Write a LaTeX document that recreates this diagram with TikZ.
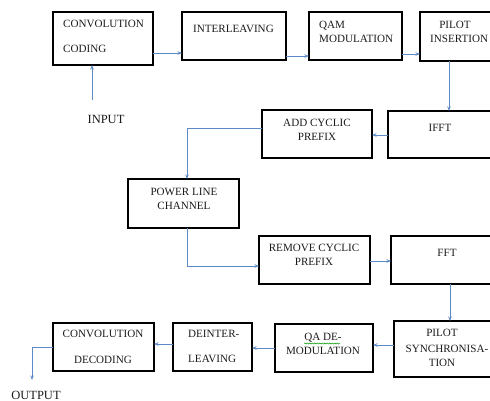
\documentclass[tikz,border=0pt]{standalone}
\usepackage{fontspec}
\setmainfont{Liberation Serif}
\usetikzlibrary{arrows.meta,decorations.pathmorphing}
\definecolor{arrblue}{HTML}{5B8AC6}
\definecolor{txt}{HTML}{1A1A1A}
\tikzset{
  box/.style={draw=black, line width=1.7pt, inner sep=0pt, outer sep=0pt},
  lbl/.style={font=\fontsize{11.1}{13}\selectfont, text=txt, inner sep=0pt, text height=7.3pt, text depth=0pt},
  biglbl/.style={font=\fontsize{12.5}{14}\selectfont, text=txt, inner sep=0pt, text height=8.2pt, text depth=0pt},
  arr/.style={draw=arrblue, line width=0.8pt, -{Stealth[length=4.5pt,width=3.5pt]}},
}
\newcommand{\mkbox}[5]{%
  \node[box, minimum width=#4pt-#2pt, minimum height=#5pt-#3pt] (#1) at ({(#2+#4)/2},{(#3+#5)/2}) {};}
\begin{document}
\begin{tikzpicture}[x=1pt,y=-1pt]
\useasboundingbox (0,0) rectangle (490,401);
\clip (0,0) rectangle (490,401);
% boxes
\mkbox{cc}{53}{12}{153}{65}
\mkbox{il}{182}{12}{286}{60}
\mkbox{qam}{309}{12}{402}{60}
\mkbox{pi}{420}{12}{505}{61}
\mkbox{ifft}{388}{111}{505}{158}
\mkbox{acp}{262}{110}{372}{158}
\mkbox{plc}{128}{179}{239}{228}
\mkbox{rcp}{259}{236}{370}{284}
\mkbox{fft}{391}{236}{505}{284}
\mkbox{ps}{394}{321}{505}{377}
\mkbox{qad}{275}{324}{373}{372}
\mkbox{di}{173}{323}{252}{371}
\mkbox{cd}{53}{323}{154}{371}
% texts
\node[lbl, anchor=west] (t1) at (63,24) {CONVOLUTION};
\node[lbl, anchor=west] (t2) at (63,49) {CODING};
\node[lbl, anchor=west] (t3) at (193,29) {INTERLEAVING};
\node[lbl, anchor=west] (t4) at (319,25) {QAM};
\node[lbl, anchor=west] (t5) at (319,39) {MODULATION};
\node[lbl] (t6) at (455,25) {PILOT};
\node[lbl, anchor=west] (t7) at (430,39) {INSERTION};
\node[lbl] (t8) at (317,123) {ADD CYCLIC};
\node[lbl] (t9) at (317,137) {PREFIX};
\node[lbl] (t10) at (440,128) {IFFT};
\node[lbl] (t11) at (184,192) {POWER LINE};
\node[lbl] (t12) at (184,206) {CHANNEL};
\node[lbl] (t13) at (314,248) {REMOVE CYCLIC};
\node[lbl] (t14) at (314,262) {PREFIX};
\node[lbl] (t15) at (447,253) {FFT};
\node[lbl] (t16) at (442,333) {PILOT};
\node[lbl] (t17) at (447,349) {SYNCHRONISA-};
\node[lbl] (t18) at (442,363) {TION};
\node[lbl] (t19) at (323,337) {QA DE-};
\node[lbl] (t20) at (323,351) {MODULATION};
\node[lbl] (t21) at (103,334) {CONVOLUTION};
\node[lbl] (t22) at (103,360) {DECODING};
\node[lbl, anchor=west] (t23) at (188,334) {DEINTER-};
\node[lbl, anchor=west] (t24) at (188,359) {LEAVING};
\node[biglbl] (in) at (106,119) {INPUT};
\node[biglbl] (out) at (36,395) {OUTPUT};
\draw[green!60!black, line width=0.5pt, decorate, decoration={snake, amplitude=0.6pt, segment length=2.5pt}] (304,343.5) -- (340,343.5);
% connectors
\coordinate (inS) at (92,100);
\coordinate (outE) at (32,380);
\draw[arr] (inS) -- (inS |- cc.south);
\draw[arr] (cc.east |- 0,53) -- (il.west |- 0,53);
\draw[arr] (il.east |- 0,56) -- (qam.west |- 0,56);
\draw[arr] (qam.east |- 0,54) -- (pi.west |- 0,54);
\draw[arr] (pi.south -| 449,0) -- (ifft.north -| 449,0);
\draw[arr] (ifft.west |- 0,135) -- (acp.east |- 0,135);
\draw[arr] (acp.west |- 0,128) -| (plc.north -| 187,0);
\draw[arr] (plc.south -| 187,0) |- (rcp.west |- 0,266);
\draw[arr] (rcp.east |- 0,261) -- (fft.west |- 0,261);
\draw[arr] (fft.south -| 450,0) -- (ps.north -| 450,0);
\draw[arr] (ps.west |- 0,345) -- (qad.east |- 0,345);
\draw[arr] (qad.west |- 0,348) -- (di.east |- 0,348);
\draw[arr] (di.west |- 0,344) -- (cd.east |- 0,344);
\draw[arr] (cd.west |- 0,347) -| (outE);
\end{tikzpicture}
\end{document}
